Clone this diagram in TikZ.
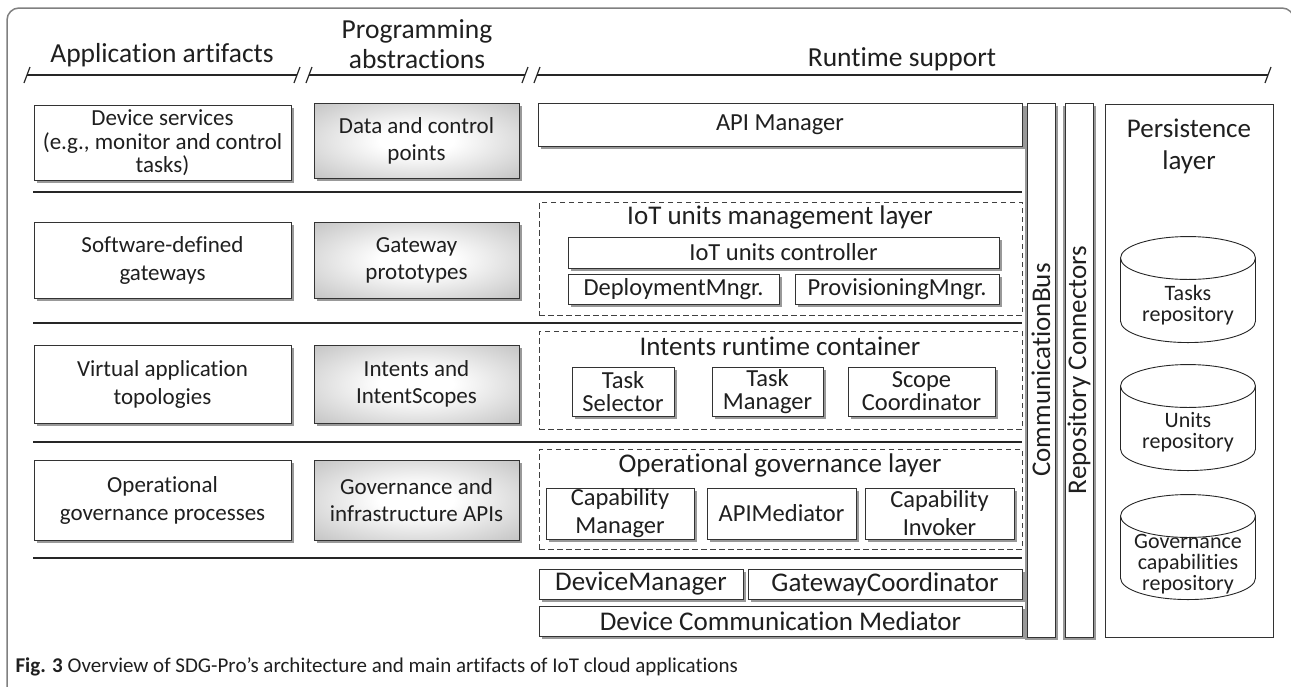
\documentclass[tikz,border=0pt]{standalone}
\usepackage{fontspec}
\setmainfont{Carlito}[Ligatures = NoCommon]
\usetikzlibrary{shadows,shapes.geometric}
\pgfdeclareradialshading{abshade}{\pgfpointorigin}{color(0bp)=(white); color(9bp)=(white); color(40bp)=(black!27); color(50bp)=(black!36)}
\begin{document}
\begin{tikzpicture}[x = 1pt,y = -1pt,color = {black!88},
wh/.style 2 args = {minimum width = #1pt,minimum height = #2pt},
shd/.style = {drop shadow = {shadow xshift = 2.5pt,shadow yshift = -2.5pt,fill = black!40,opacity = 1}},
artbox/.style = {draw = black!80,line width = 0.9pt,fill = white,inner sep = 0pt,align = center,shd,font = \fontsize{23}{28}\selectfont},
absbox/.style = {artbox,shade,shading = abshade,font = \fontsize{23}{27}\selectfont},
rtbox/.style = {artbox,font = \fontsize{24.5}{23}\selectfont},
capbox/.style = {artbox,font = \fontsize{24.5}{28}\selectfont},
bigbox/.style = {artbox,font = \fontsize{27}{30}\selectfont},
layer/.style = {draw = black!75,line width = 0.9pt,dash pattern = on 5.5pt off 3.5pt,inner sep = 0pt},
ltitle/.style = {font = \fontsize{27}{30}\selectfont},
hdr/.style = {font = \fontsize{27.5}{30}\selectfont,align = center},
sep/.style = {line width = 2.8pt,black!85},
hline/.style = {line width = 1.2pt,black!85},
repo/.style = {cylinder,shape border rotate = 90,aspect = 0.39,draw = black!85,line width = 0.9pt,inner sep = 0pt,
  text width = 110pt,minimum width = 135pt,minimum height = 106pt,anchor = south},
repotx/.style = {align = center,font = \fontsize{22}{21}\selectfont}]
\useasboundingbox (0,0) rectangle (1291,686);
\draw[black!50,line width = 1.5pt,rounded corners = 12pt] (7,700) -- (7,8) -- (1294,8) -- (1294,700);
% header
\node[hdr,anchor = base] (hart) at (162,62) {Application artifacts};
\node[hdr] (habs) at (417,44) {Programming\\abstractions};
\node[hdr,anchor = base] (hrt) at (902,66) {Runtime support};
\draw[hline] (27,75) -- (297,75);\draw[hline] (24,83) -- (30,67);\draw[hline] (294,83) -- (300,67);
\draw[hline] (309,75) -- (525,75);\draw[hline] (306,83) -- (312,67);\draw[hline] (522,83) -- (528,67);
\draw[hline] (537,75) -- (1268,75);\draw[hline] (534,83) -- (540,67);\draw[hline] (1265,83) -- (1271,67);
%
\node[artbox,wh = {257}{75},font = \fontsize{23}{23.5}\selectfont] (devsrv) at (162.5,143) {Device services\\(e.g., monitor and control\\tasks)};
\node[absbox,wh = {205}{75}] (ctrlpts) at (416.5,140.5) {Data and control\\points};
\node[rtbox,wh = {484}{43}] (apimgr) at (780,124.5) {API Manager};
\draw[sep] (33,192) -- (1022,192);
%
\node[artbox,wh = {257}{76}] (sdg) at (162.5,260) {Software-defined\\gateways};
\node[absbox,wh = {205}{76}] (gwproto) at (416.5,260) {Gateway\\prototypes};
\node[layer,wh = {483}{113}] (iotlay) at (780.5,258.5) {};\node[ltitle] (iottl) at (780,217) {IoT units management layer};
\node[rtbox,wh = {431}{31}] (iotctrl) at (783.5,252.5) {IoT units controller};
\node[rtbox,wh = {211}{30}] (deploy) at (673.5,289) {DeploymentMngr.};
\node[rtbox,wh = {204}{30}] (provis) at (897,289) {ProvisioningMngr.};
\draw[sep] (33,323) -- (1022,323);
%
\node[artbox,wh = {257}{78}] (vtopo) at (162.5,384) {Virtual application\\topologies};
\node[absbox,wh = {205}{78}] (intents) at (416.5,384) {Intents and\\IntentScopes};
\node[layer,wh = {483}{98}] (intlay) at (780.5,380) {};\node[ltitle] (inttl) at (780,346) {Intents runtime container};
\node[rtbox,wh = {102}{49}] (tsel) at (623,391.5) {Task\\Selector};
\node[rtbox,wh = {111}{49}] (tmgr) at (767.5,391.5) {Task\\Manager};
\node[rtbox,wh = {147}{49}] (scoord) at (921.5,391.5) {Scope\\Coordinator};
\draw[sep] (33,442) -- (1022,442);
%
\node[artbox,wh = {257}{80}] (opgov) at (162.5,500) {Operational\\governance processes};
\node[absbox,wh = {205}{80}] (govapi) at (416.5,500) {Governance and\\infrastructure APIs};
\node[layer,wh = {483}{100}] (govlay) at (780.5,499) {};\node[ltitle] (govtl) at (780,465) {Operational governance layer};
\node[capbox,wh = {148}{51}] (capmgr) at (620,513.5) {Capability\\Manager};
\node[capbox,wh = {149}{51}] (apimed) at (781.5,513.5) {APIMediator};
\node[capbox,wh = {149}{51}] (capinv) at (939.5,513.5) {Capability\\Invoker};
\draw[sep] (33,558) -- (1022,558);
%
\node[bigbox,wh = {204}{30}] (devmgr) at (641,584) {DeviceManager};
\node[bigbox,wh = {274}{30}] (gwcoord) at (885,584) {GatewayCoordinator};
\node[bigbox,wh = {483}{30}] (dcm) at (780.5,621) {Device Communication Mediator};
%
\node[bigbox,rotate = 90,wh = {534}{28},drop shadow = {shadow xshift = -2.5pt,shadow yshift = -2.5pt,fill = black!40,opacity = 1}] (cbus) at (1041,370) {CommunicationBus};
\node[bigbox,rotate = 90,wh = {534}{28},drop shadow = {shadow xshift = -2.5pt,shadow yshift = -2.5pt,fill = black!40,opacity = 1}] (rconn) at (1079,370) {Repository Connectors};
\node[draw = black!80,line width = 0.9pt,wh = {168}{533}] (pers) at (1189,370.5) {};
\node[ltitle,align = center,font = \fontsize{27}{32}\selectfont] (perstl) at (1189,146) {Persistence\\layer};
\node[repo] (trepo) at (1188,343) {};\node[repotx] (trepotx) at (1188,305.5) {Tasks\\repository};
\node[repo] (urepo) at (1188,471) {};\node[repotx] (urepotx) at (1188,432.5) {Units\\repository};
\node[repo,minimum height = 105pt] (grepo) at (1188,600) {};\node[repotx] (grepotx) at (1188,564) {Governance\\capabilities\\repository};
%
\node[anchor = base west,font = \fontsize{21}{23}\selectfont] (cap) at (12,672) {\textbf{Fig. 3} Overview of SDG-Pro’s architecture and main artifacts of IoT cloud applications};
\end{tikzpicture}
\end{document}
